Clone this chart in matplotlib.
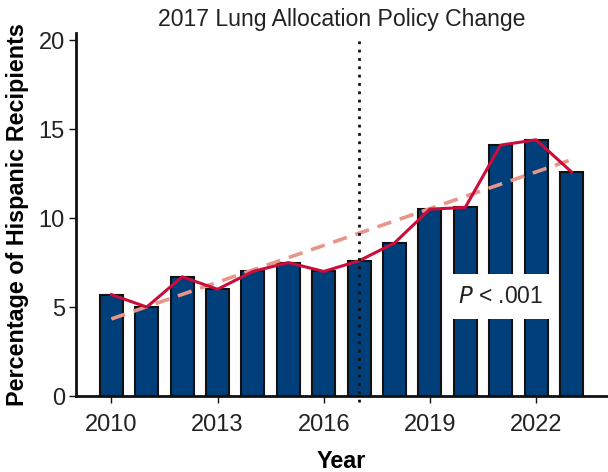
import numpy as np
import matplotlib
matplotlib.use("Agg")
import matplotlib.pyplot as plt

# -------------------------
# Data
# -------------------------
years = [2010, 2011, 2012, 2013, 2014, 2015, 2016,
         2017, 2018, 2019, 2020, 2021, 2022, 2023]
pct_hispanic = [5.7, 5.0, 6.7, 6.0, 7.0, 7.5, 7.0,
                7.6, 8.6, 10.5, 10.6, 14.1, 14.4, 12.6]
tick_years = [2010, 2013, 2016, 2019, 2022]
policy_year = 2017

plt.rcParams['font.family'] = ['Liberation Sans', 'DejaVu Sans']

x = np.array(years)
y = np.array(pct_hispanic)

# linear trend
slope, intercept = np.polyfit(x, y, 1)
trend = slope * x + intercept

# -------------------------
# Plot
# -------------------------
fig = plt.figure(figsize=(6.08, 4.72), dpi=100)
ax = fig.add_axes([0.125, 0.161, 0.873, 0.769])

ax.bar(x, y, width=0.65, color="#003f7a", edgecolor="#111111",
       linewidth=1.5, zorder=2)

ax.plot(x, trend, linestyle=(0, (4, 2.5)), color="#e8958a",
        linewidth=2.6, zorder=3)
ax.plot(x, y, color="#cc0c3a", linewidth=2.2, zorder=4)

ax.plot([policy_year, policy_year], [-0.35, 20], linestyle=(0, (1, 2)),
        color="#111111", linewidth=2.0, zorder=5, clip_on=False)

ax.text(2021.0, 5.6, r"$\it{P}$ < .001", fontsize=16.5, ha="center",
        va="center", zorder=6, color="#222222",
        bbox=dict(facecolor="white", edgecolor="none", pad=8))

ax.set_xlim(2009, 2024)
ax.set_ylim(0, 20.4)
ax.set_xticks(tick_years)
ax.set_xticklabels([str(t) for t in tick_years])
ax.set_yticks([0, 5, 10, 15, 20])

for side in ["top", "right"]:
    ax.spines[side].set_visible(False)
for side in ["left", "bottom"]:
    ax.spines[side].set_linewidth(2.0)
    ax.spines[side].set_color("#111111")

ax.tick_params(axis="both", labelsize=17, length=5, width=1.0,
               color="#111111", labelcolor="#222222")
ax.tick_params(axis="x", pad=8)
ax.tick_params(axis="y", pad=3)

ax.set_xlabel("Year", fontsize=16.8, fontweight="bold", labelpad=10)
ax.set_ylabel("Percentage of Hispanic Recipients", fontsize=16.8,
              fontweight="bold", labelpad=7)
ax.set_title("2017 Lung Allocation Policy Change", fontsize=16.6,
             color="#222222", pad=5)
ax.title.set_y(1.005)

fig.savefig("out.png", dpi=100)
